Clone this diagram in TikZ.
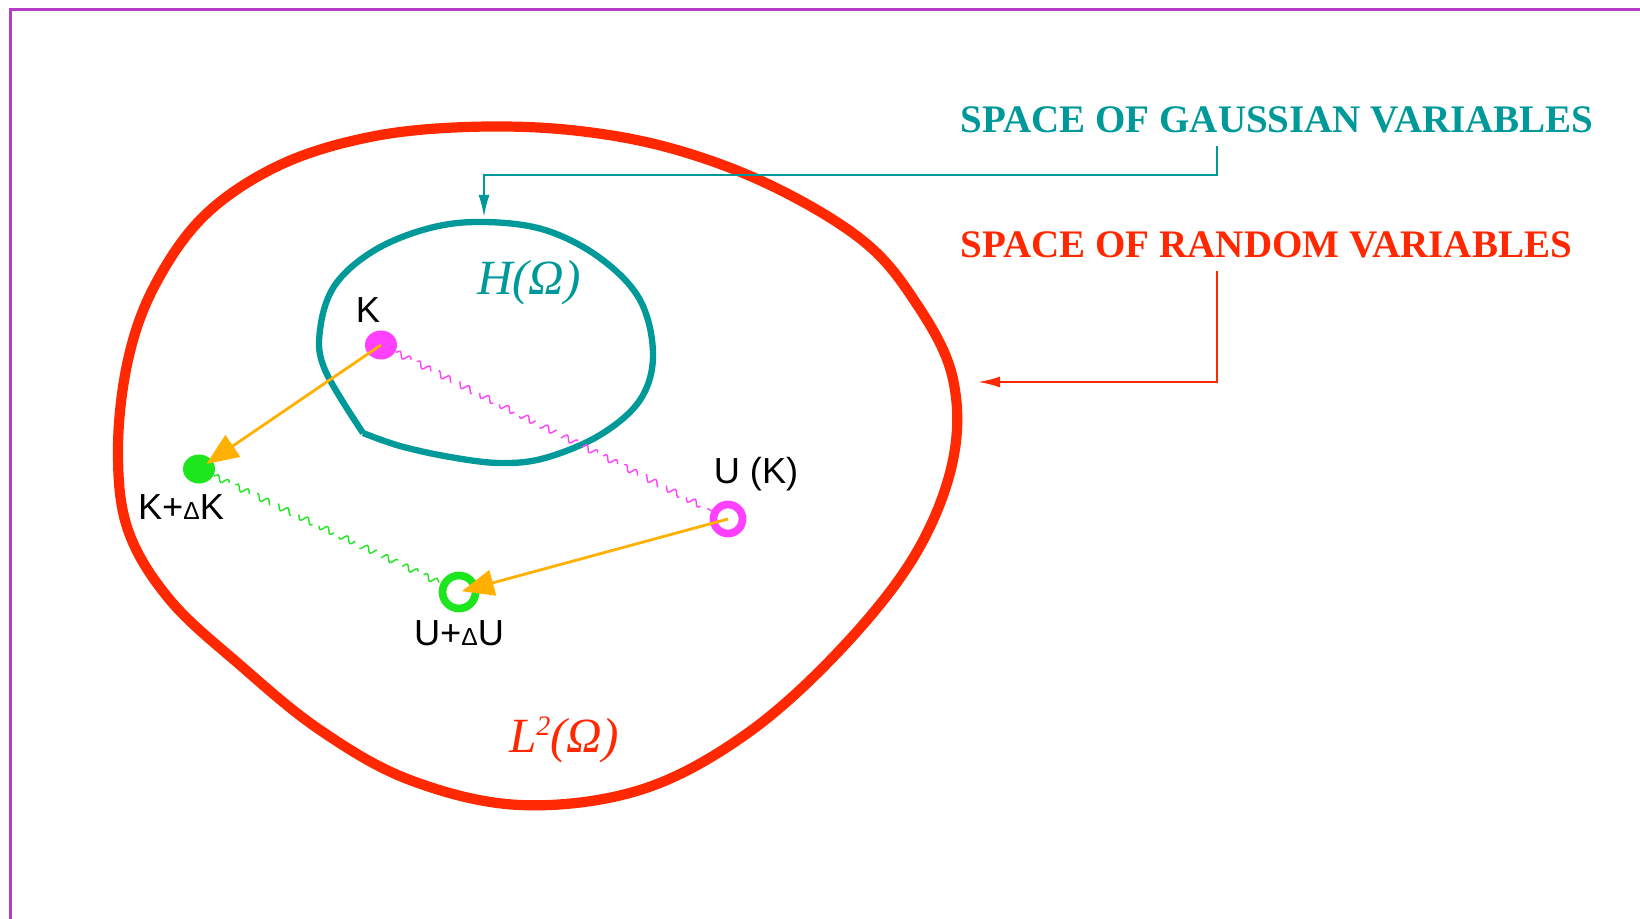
\documentclass[tikz,border=0pt]{standalone}
\usepackage{fontspec}
\setmainfont{Liberation Serif}
\newfontfamily\lblfont{Liberation Sans}
\usetikzlibrary{arrows.meta,positioning,shapes.geometric,decorations.pathmorphing}
\definecolor{redspace}{RGB}{255,40,0}
\definecolor{gaussteal}{RGB}{0,153,153}
\definecolor{kmagenta}{RGB}{255,64,255}
\definecolor{kgreen}{RGB}{30,230,30}
\definecolor{maporange}{RGB}{255,176,0}
\definecolor{framepurple}{RGB}{180,60,200}

\begin{document}
\begin{tikzpicture}[x=0.01cm, y=-0.01cm, >={Latex[length=0.22cm,width=0.11cm]}] % Styles
\tikzstyle{fulldot}=[ellipse, inner sep=0pt, minimum width=0.32cm, minimum height=0.29cm]
\tikzstyle{ringdot}=[circle, draw, line width=2.2pt, inner sep=0pt]
\tikzstyle{lbl}=[inner sep=0pt, font=\lblfont\fontsize{10.3}{12}\selectfont]
\tikzstyle{spacetitle}=[inner sep=0pt, anchor=west, font=\fontsize{11.1}{13}\selectfont\bfseries]
\tikzstyle{spacename}=[inner sep=0pt, font=\fontsize{14}{16}\selectfont\itshape]
\tikzstyle{wave}=[thin, decorate, decoration={snake, amplitude=0.03cm, segment length=0.11cm}, dash pattern=on 0.25cm off 0.1cm]
\tikzstyle{mapto}=[maporange, line width=0.8pt, -{Triangle[length=0.32cm, width=0.26cm]}]
\useasboundingbox (0,0) rectangle (1640,919);
\draw[framepurple, line width=0.6pt] (1640,9.5) -- (10.5,9.5) -- (10.5,919); % Spaces
\draw[redspace, line width=2.9pt] plot[smooth cycle, tension=0.6] coordinates {(467,127) (570,130) (670,148) (770,185) (862,240) (914,300) (952,375) (953,460) (915,555) (840,650) (745,735) (640,790) (520,805) (410,780) (320,730) (240,665) (170,600) (128,530) (118,450) (128,360) (155,285) (205,215) (280,165) (370,137)};
\draw[gaussteal, line width=1.8pt] plot[smooth, tension=0.6] coordinates {(363,433) (325,370) (320,330) (335,285) (375,250) (430,228) (484,222) (545,230) (600,258) (640,300) (653,355) (640,400) (600,435) (545,458) (500,463) (450,457) (400,446) (363,433)};
\node[gaussteal, spacename] (hlabel) at (529,283) {H(Ω)};
\node[redspace, spacename] (llabel) at (564,740) {L\raisebox{0.75ex}{\fontsize{8}{8}\selectfont 2}(Ω)}; % Points
\node[fulldot, fill=kmagenta] (k) at (381,345) {};
\node[ringdot, kmagenta, minimum size=0.29cm] (uk) at (728,519) {};
\node[fulldot, fill=kgreen] (kdk) at (199,469) {};
\node[ringdot, kgreen, minimum size=0.33cm] (udu) at (459,592) {};
\node[lbl, above=0.07cm of k, xshift=-0.13cm] (klabel) {K};
\node[lbl, above=0.09cm of uk, xshift=0.28cm] (uklabel) {U (K)};
\node[lbl, below=0.1cm of kdk, xshift=-0.18cm] (kdklabel) {K+{\fontsize{7}{8}\selectfont Δ}K};
\node[lbl, below=0.07cm of udu] (udulabel) {U+{\fontsize{7}{8}\selectfont Δ}U}; % Links
\draw[wave, kmagenta] (k) -- (uk);
\draw[wave, kgreen] (kdk) -- (udu);
\draw[mapto, shorten >=0.09cm] (k.center) -- (kdk.center);
\draw[mapto, shorten >=0.03cm] (uk.center) -- (udu.center); % Titles
\node[spacetitle, gaussteal] (gauss) at (960,120) {SPACE OF GAUSSIAN VARIABLES};
\node[spacetitle, redspace] (rand) at (960,245) {SPACE OF RANDOM VARIABLES};
\coordinate (gbend) at (1217,175);
\coordinate (htop) at (484,217);
\coordinate (rbend) at (1217,382);
\coordinate (lright) at (978,382);
\draw[gaussteal, line width=0.6pt, ->] ([yshift=-0.12cm]gauss.south -| gbend) -- (gbend) -| (htop);
\draw[redspace, line width=0.6pt, ->] ([yshift=-0.12cm]rand.south -| rbend) -- (rbend) -- (lright);
\end{tikzpicture}
\end{document}
